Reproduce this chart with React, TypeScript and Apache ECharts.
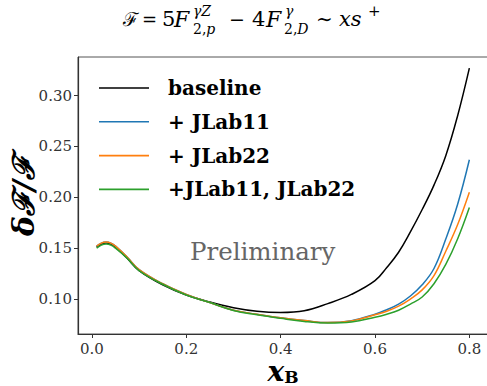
import React, { useEffect, useRef } from "react";
import * as echarts from "echarts";

// Bjorken-x grid and relative uncertainty of F = 5F2p(γZ) - 4F2D(γ)
const xB = [0.01, 0.02, 0.03, 0.04, 0.05, 0.075, 0.1, 0.15, 0.2, 0.25, 0.3, 0.35, 0.4, 0.45, 0.5, 0.55, 0.6, 0.625, 0.65, 0.675, 0.7, 0.725, 0.75, 0.775, 0.8];
const baseline = [0.151, 0.154, 0.155, 0.154, 0.151, 0.14, 0.128, 0.114, 0.104, 0.097, 0.0915, 0.088, 0.0868, 0.0885, 0.0955, 0.1045, 0.118, 0.131, 0.146, 0.166, 0.188, 0.212, 0.241, 0.28, 0.327];
const jlab11 = [0.152, 0.155, 0.156, 0.155, 0.152, 0.141, 0.129, 0.115, 0.1045, 0.0965, 0.089, 0.085, 0.0815, 0.0788, 0.0768, 0.0787, 0.085, 0.0895, 0.095, 0.103, 0.114, 0.13, 0.159, 0.193, 0.237];
const jlab22 = [0.152, 0.155, 0.156, 0.155, 0.152, 0.141, 0.129, 0.115, 0.1045, 0.0965, 0.089, 0.085, 0.0815, 0.0788, 0.0768, 0.0785, 0.0845, 0.088, 0.093, 0.1, 0.109, 0.123, 0.147, 0.173, 0.205];
const jlabBoth = [0.15, 0.153, 0.154, 0.153, 0.15, 0.14, 0.128, 0.1145, 0.104, 0.0965, 0.0888, 0.0845, 0.081, 0.078, 0.0765, 0.0775, 0.082, 0.085, 0.089, 0.095, 0.102, 0.115, 0.134, 0.159, 0.19];

const seriesNames = ["baseline", "+ JLab11", "+ JLab22", "+JLab11, JLab22"];
const seriesColors = ["#000000", "#1f77b4", "#ff7f0e", "#2ca02c"];
const seriesValues = [baseline, jlab11, jlab22, jlabBoth];

const xTicks = [0, 0.2, 0.4, 0.6, 0.8];
const yTicks = [0.1, 0.15, 0.2, 0.25, 0.3];

const SERIF = "DejaVu Serif";

type Piece = { x: number; y: number; t: string; fs: number; italic?: boolean };

// Title formula laid out piece by piece (main line, superscripts, subscripts)
const titlePieces: Piece[] = [
  { x: 123, y: 19, t: "ℱ", fs: 19 },
  { x: 142, y: 19, t: "=", fs: 18 },
  { x: 162, y: 19, t: "5", fs: 21 },
  { x: 174, y: 19, t: "F", fs: 22, italic: true },
  { x: 193, y: 11, t: "γZ", fs: 14, italic: true },
  { x: 193, y: 29, t: "{n|2,}{i|p}", fs: 14 },
  { x: 229, y: 19, t: "−", fs: 19 },
  { x: 252, y: 19, t: "4", fs: 21 },
  { x: 266, y: 19, t: "F", fs: 22, italic: true },
  { x: 285, y: 11, t: "γ", fs: 14, italic: true },
  { x: 284, y: 29, t: "{n|2,}{i|D}", fs: 14 },
  { x: 316, y: 19, t: "∼", fs: 20 },
  { x: 339, y: 19, t: "xs", fs: 21, italic: true },
  { x: 368, y: 11, t: "+", fs: 15 },
];

export default function App() {
  const ref = useRef<HTMLDivElement>(null);

  useEffect(() => {
    if (!ref.current) return;
    const chart = echarts.init(ref.current, null, { renderer: "svg" });

    const titleGraphics = titlePieces.map((p) => ({
      type: "text",
      x: p.x,
      y: p.y,
      silent: true,
      style: {
        text: p.t,
        fontFamily: SERIF,
        fontSize: p.fs,
        fontStyle: p.italic ? "italic" : "normal",
        fill: "#000",
        align: "left",
        verticalAlign: "middle",
        rich: {
          n: { fontFamily: SERIF, fontSize: p.fs, fontStyle: "normal", fill: "#000" },
          i: { fontFamily: SERIF, fontSize: p.fs, fontStyle: "italic", fill: "#000" },
        },
      },
    }));

    const option: any = {
      animation: false,
      backgroundColor: "#ffffff",
      grid: {
        left: 78,
        top: 57,
        width: 410,
        height: 277,
        containLabel: false,
        outerBoundsMode: "none",
        show: true,
        borderColor: "#555",
        borderWidth: 1,
        backgroundColor: "transparent",
      },
      xAxis: {
        type: "value",
        min: -0.0295,
        max: 0.8395,
        name: "{i|x}{s|B}",
        nameLocation: "middle",
        nameMoveOverlap: false,
        nameGap: 23,
        nameTextStyle: {
          rich: {
            i: { fontFamily: SERIF, fontStyle: "italic", fontWeight: "bold", fontSize: 28, color: "#000", verticalAlign: "bottom" },
            s: { fontFamily: SERIF, fontWeight: "bold", fontSize: 17, color: "#000", verticalAlign: "bottom" },
          },
        },
        axisLine: { onZero: false, lineStyle: { color: "#333", width: 1.2 } },
        axisTick: { show: true, inside: false, length: 4, customValues: xTicks, lineStyle: { color: "#333", width: 1 } },
        axisLabel: {
          customValues: xTicks,
          formatter: (v: number) => v.toFixed(1),
          fontFamily: SERIF,
          fontSize: 15,
          color: "#333",
          margin: 7,
        },
        splitLine: { show: false },
      },
      yAxis: {
        type: "value",
        min: 0.0656,
        max: 0.338,
        name: "δℱ/ℱ",
        nameLocation: "middle",
        nameMoveOverlap: false,
        nameRotate: 90,
        nameGap: 40,
        nameTextStyle: { fontFamily: SERIF, fontStyle: "italic", fontWeight: "bold", fontSize: 30, color: "#000" },
        axisLine: { onZero: false, lineStyle: { color: "#333", width: 1.2 } },
        axisTick: { show: true, inside: false, length: 4, customValues: yTicks, lineStyle: { color: "#333", width: 1 } },
        axisLabel: {
          customValues: yTicks,
          formatter: (v: number) => v.toFixed(2),
          fontFamily: SERIF,
          fontSize: 15,
          color: "#333",
          margin: 6,
        },
        splitLine: { show: false },
      },
      legend: {
        orient: "vertical",
        left: 99,
        top: 77,
        padding: 0,
        icon: "rect",
        itemWidth: 50,
        itemHeight: 1.6,
        itemGap: 11.8,
        data: seriesNames,
        textStyle: {
          fontFamily: SERIF,
          fontWeight: "bold",
          fontSize: 20,
          lineHeight: 22,
          color: "#000",
          padding: [0, 0, 0, 14],
        },
      },
      graphic: [
        ...titleGraphics,
        {
          type: "text",
          x: 190,
          y: 251,
          silent: true,
          style: {
            text: "Preliminary",
            fontFamily: SERIF,
            fontSize: 24.5,
            fill: "#666",
            align: "left",
            verticalAlign: "middle",
          },
        },
      ],
      series: seriesNames.map((name, k) => ({
        name,
        type: "line",
        data: xB.map((x, i) => [x, seriesValues[k][i]]),
        smooth: 0.4,
        symbol: "none",
        showSymbol: false,
        lineStyle: { color: seriesColors[k], width: 1.5 },
        itemStyle: { color: seriesColors[k] },
        z: 2 + k,
      })),
    };

    chart.setOption(option);
    return () => chart.dispose();
  }, []);

  return (
    <div
      ref={ref}
      style={{ position: "absolute", left: 0, top: 0, width: 487, height: 386, background: "#fff" }}
    />
  );
}
